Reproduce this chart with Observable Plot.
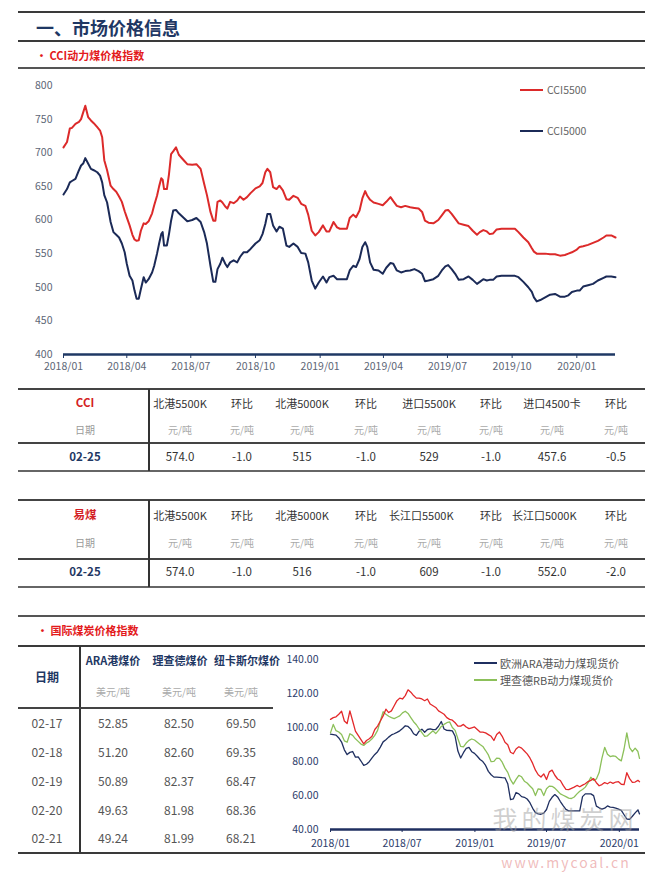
<!DOCTYPE html>
<html><head><meta charset="utf-8">
<script src="https://cdn.jsdelivr.net/npm/d3@7"></script>
<script src="https://cdn.jsdelivr.net/npm/@observablehq/plot@0.6"></script>
<style>
body{margin:0;background:#fff;}
#page{position:relative;width:663px;height:872px;overflow:hidden;background:#fff;font-family:"Noto Sans CJK SC","Noto Sans",sans-serif;}
.t{position:absolute;white-space:nowrap;transform:translate(-50%,-50%);line-height:1;}
.l{position:absolute;}
</style></head><body><div id="page"></div>
<script>
// ---------- DATA ----------
const cciDates = ["2018-01-01","2018-01-06","2018-01-10","2018-01-13","2018-01-18","2018-01-23","2018-01-26","2018-01-29","2018-02-01","2018-02-05","2018-02-09","2018-02-13","2018-02-18","2018-02-22","2018-02-25","2018-02-28","2018-03-04","2018-03-09","2018-03-13","2018-03-17","2018-03-21","2018-03-25","2018-03-29","2018-04-01","2018-04-05","2018-04-09","2018-04-12","2018-04-15","2018-04-18","2018-04-21","2018-04-25","2018-04-28","2018-05-02","2018-05-07","2018-05-10","2018-05-14","2018-05-17","2018-05-20","2018-05-22","2018-05-24","2018-05-28","2018-05-31","2018-06-03","2018-06-06","2018-06-10","2018-06-14","2018-06-20","2018-06-26","2018-07-03","2018-07-09","2018-07-15","2018-07-20","2018-07-24","2018-07-29","2018-08-02","2018-08-05","2018-08-08","2018-08-12","2018-08-15","2018-08-19","2018-08-22","2018-08-26","2018-08-31","2018-09-05","2018-09-09","2018-09-14","2018-09-19","2018-09-24","2018-10-01","2018-10-07","2018-10-11","2018-10-15","2018-10-18","2018-10-22","2018-10-26","2018-10-31","2018-11-04","2018-11-09","2018-11-14","2018-11-18","2018-11-24","2018-11-30","2018-12-05","2018-12-11","2018-12-15","2018-12-20","2018-12-25","2018-12-30","2019-01-05","2019-01-10","2019-01-14","2019-01-20","2019-01-25","2019-01-29","2019-02-08","2019-02-12","2019-02-17","2019-02-21","2019-02-26","2019-03-02","2019-03-06","2019-03-09","2019-03-13","2019-03-18","2019-03-25","2019-03-31","2019-04-05","2019-04-11","2019-04-15","2019-04-20","2019-04-26","2019-05-02","2019-05-09","2019-05-15","2019-05-21","2019-05-26","2019-05-30","2019-06-04","2019-06-11","2019-06-18","2019-06-23","2019-06-28","2019-07-02","2019-07-07","2019-07-12","2019-07-17","2019-07-24","2019-07-31","2019-08-06","2019-08-12","2019-08-16","2019-08-21","2019-08-26","2019-08-30","2019-09-04","2019-09-09","2019-09-16","2019-10-05","2019-10-10","2019-10-17","2019-10-24","2019-10-29","2019-11-01","2019-11-05","2019-11-10","2019-11-17","2019-11-24","2019-12-01","2019-12-08","2019-12-15","2019-12-20","2019-12-25","2020-01-01","2020-01-05","2020-01-10","2020-01-17","2020-01-24","2020-01-31","2020-02-08","2020-02-12","2020-02-19","2020-02-25"];
const cci5500 = [708,716,736,737,743,746,750,760,770,753,748,744,738,733,723,689,674,651,646,642,635,627,613,604,592,578,571,569,570,584,595,594,598,610,622,636,650,662,660,646,646,668,698,702,708,697,690,683,682,683,676,654,637,612,599,599,627,629,626,620,617,627,625,629,635,630,634,640,647,650,655,671,676,671,649,646,651,644,631,630,636,633,624,621,608,584,577,582,592,583,583,597,589,587,587,603,608,604,614,632,643,636,630,626,624,622,627,634,628,621,619,621,619,618,617,612,599,596,595,600,607,614,615,609,602,595,593,591,584,578,582,585,583,579,580,586,587,587,582,574,567,558,553,550,550,550,549,549,547,548,550,552,556,560,561,563,566,569,574,577,577,574];
const cci5000 = [638,646,656,658,661,674,681,684,692,684,676,674,671,666,656,637,626,597,582,578,574,565,552,535,517,510,495,483,483,497,515,507,512,522,532,550,565,579,582,562,562,579,599,614,615,610,604,598,600,603,597,582,565,532,508,508,527,535,544,535,530,537,540,537,545,552,552,557,565,570,579,594,609,609,592,583,590,587,562,560,565,560,551,550,537,510,498,507,516,507,515,517,512,512,512,525,532,530,542,560,567,560,537,526,525,520,529,536,535,525,522,524,525,527,524,520,509,510,512,517,525,531,533,527,520,511,512,516,511,505,508,512,510,511,511,516,517,517,515,508,500,493,485,479,481,485,489,490,486,486,488,493,495,495,501,503,505,510,514,516,516,515];
const cciYTicks = [400,450,500,550,600,650,700,750,800];
const cciXTicks = ["2018-01-01","2018-04-01","2018-07-01","2018-10-01","2019-01-01","2019-04-01","2019-07-01","2019-10-01","2020-01-01"];
const cciSeriesNames = ["CCI5500","CCI5000"];

const cciHeaders = ["北港5500K","环比","北港5000K","环比","进口5500K","环比","进口4500卡","环比"];
const cciRowValues = ["574.0","-1.0","515","-1.0","529","-1.0","457.6","-0.5"];
const ymHeaders = ["北港5500K","环比","北港5000K","环比","长江口5500K","环比","长江口5000K","环比"];
const ymRowValues = ["574.0","-1.0","516","-1.0","609","-1.0","552.0","-2.0"];
const rowDate = "02-25";
const unitCny = "元/吨";

const intlHeaders = ["ARA港煤价","理查德煤价","纽卡斯尔煤价"];
const unitUsd = "美元/吨";
const intlDates = ["02-17","02-18","02-19","02-20","02-21"];
const intlARA = ["52.85","51.20","50.89","49.63","49.24"];
const intlRB = ["82.50","82.60","82.37","81.98","81.99"];
const intlNC = ["69.50","69.35","68.47","68.36","68.21"];

const weekDates = ["2018-01-01","2018-01-08","2018-01-15","2018-01-22","2018-01-29","2018-02-05","2018-02-12","2018-02-19","2018-02-26","2018-03-05","2018-03-12","2018-03-19","2018-03-26","2018-04-02","2018-04-09","2018-04-16","2018-04-23","2018-04-30","2018-05-07","2018-05-14","2018-05-21","2018-05-28","2018-06-04","2018-06-11","2018-06-18","2018-06-25","2018-07-02","2018-07-09","2018-07-16","2018-07-23","2018-07-30","2018-08-06","2018-08-13","2018-08-20","2018-08-27","2018-09-03","2018-09-10","2018-09-17","2018-09-24","2018-10-01","2018-10-08","2018-10-15","2018-10-22","2018-10-29","2018-11-05","2018-11-12","2018-11-19","2018-11-26","2018-12-03","2018-12-10","2018-12-17","2018-12-24","2018-12-31","2019-01-07","2019-01-14","2019-01-21","2019-01-28","2019-02-04","2019-02-11","2019-02-18","2019-02-25","2019-03-04","2019-03-11","2019-03-18","2019-03-25","2019-04-01","2019-04-08","2019-04-15","2019-04-22","2019-04-29","2019-05-06","2019-05-13","2019-05-20","2019-05-27","2019-06-03","2019-06-10","2019-06-17","2019-06-24","2019-07-01","2019-07-08","2019-07-15","2019-07-22","2019-07-29","2019-08-05","2019-08-12","2019-08-19","2019-08-26","2019-09-02","2019-09-09","2019-09-16","2019-09-23","2019-09-30","2019-10-07","2019-10-14","2019-10-21","2019-10-28","2019-11-04","2019-11-11","2019-11-18","2019-11-25","2019-12-02","2019-12-09","2019-12-16","2019-12-23","2019-12-30","2020-01-06","2020-01-13","2020-01-20","2020-01-27","2020-02-03","2020-02-10","2020-02-17","2020-02-21"];
const araValues = [96.3,96,95.7,94,91.6,87,84.2,85.5,86,82.7,82.8,80.4,77.8,78.5,80,82.2,84.3,85.9,88.6,91.7,93,94.5,95.8,96.5,97.3,98.2,99.6,101.2,100.8,99.2,96.5,95.5,98,99.2,97.4,99,99.4,98.9,99,100.9,103.7,99.3,98.5,98.4,98.2,95,86.3,82.2,85.3,87.8,88.4,85.9,84.9,83.2,81.3,80.1,77.8,74.3,72.3,70.9,70.9,70.8,70.6,70.5,67,57.6,58,61.8,61,59.4,59,58,55.8,52.5,50,49.2,49,49.6,51.8,56.6,59,60.6,59.2,56.5,54.1,51.9,51,51,51,51,51,59.4,61,61,61,60,53.8,52.8,52,52.6,53.9,53.2,53,52.6,52,51.3,48.7,46.2,46,47.8,49.8,51.6,49.2];
const rbValues = [97,102,98.3,97.5,96,92.3,91.5,96.5,95.5,93.5,92,90.4,89.6,91,92,93.5,95.5,98.5,104,109.5,108,106.8,106,105.4,106.2,107,108.8,109.8,108.5,106,103.6,101.8,99.3,97.2,94.9,95.3,96.8,98.2,96.6,98.5,100.8,102,103,103.5,100.2,98.5,93.5,89,88.8,91,92.6,93.4,92.8,91.5,90.2,89,86.6,84,80,80.2,82.1,82,79.7,76.2,73.7,69.4,66.8,69.6,71.9,71.1,68.5,67.4,65.7,64,60,64,63.6,60,64,65.6,65.5,64.4,62.7,61,60.2,59.4,58.5,58.3,59.2,61,62.6,63.6,65,67.5,70.8,69,69.8,73.6,82,88.5,84.4,83,83.5,83.1,81.5,80.5,87.5,97,88.3,85.9,88,86,82];
const ncValues = [105,106,106.5,108,109.8,104,102.5,110,104,98,95.5,93,90.5,92.5,93.5,95,99,101,104,107,111,109,110,113,116,117.5,117,119,122.4,121,119,117.5,117.5,117,116,117,114,113,112,110,109,108,106,105,104.5,103,101,101,102,100.5,99.5,100,100.5,99,97.5,97.5,97,96,95,92.5,96,97.5,95,91.5,90,85.6,84.7,87.5,88.8,88,86.3,84.6,82.2,79,75,72.3,71,72.8,69.5,74,75,72,69.8,68.9,66,63.7,63.5,64.3,65,66,65.2,66.2,67,68.3,69,70,67.6,65.8,66.5,67.7,67,68,67.2,68,68.2,66.7,66.5,73.5,70,67.8,68,69,68.2];
const intlYTicks = [40,60,80,100,120,140];
const intlXTicks = ["2018-01-01","2018-07-01","2019-01-01","2019-07-01","2020-01-01"];
const intlLegend = ["欧洲ARA港动力煤现货价","理查德RB动力煤现货价"];

// ---------- helpers ----------
const page = document.getElementById("page");
const FONT = '"Noto Sans CJK SC","Noto Sans",sans-serif';
function text(s, x, y, style = {}, anchor = "middle") {
  const d = document.createElement("div");
  d.className = "t"; d.textContent = s;
  d.style.left = x + "px"; d.style.top = y + "px";
  if (anchor === "start") d.style.transform = "translate(0,-50%)";
  Object.assign(d.style, style);
  page.appendChild(d); return d;
}
function hline(y, x1, x2, w, c) {
  const d = document.createElement("div"); d.className = "l";
  Object.assign(d.style, {left: x1 + "px", top: (y - w / 2) + "px", width: (x2 - x1) + "px", height: w + "px", background: c});
  page.appendChild(d);
}
function vline(x, y1, y2, w, c) {
  const d = document.createElement("div"); d.className = "l";
  Object.assign(d.style, {left: (x - w / 2) + "px", top: y1 + "px", width: w + "px", height: (y2 - y1) + "px", background: c});
  page.appendChild(d);
}
function place(el, x, y) {
  const w = document.createElement("div");
  Object.assign(w.style, {position: "absolute", left: x + "px", top: y + "px"});
  w.appendChild(el); page.appendChild(w);
}

// ---------- header ----------
hline(12, 18, 645, 2, "#3a3a3a");
text("一、市场价格信息", 36, 27, {fontSize: "18px", fontWeight: "700", color: "#1f3864"}, "start");
hline(41, 18, 645, 2, "#3a3a3a");
text("• CCI动力煤价格指数", 36, 55, {fontSize: "11px", fontWeight: "700", color: "#e31a1c"}, "start");
hline(68, 18, 645, 1.5, "#555");

// ---------- chart 1 ----------
const parse = s => new Date(s);
const cciRows = cciDates.flatMap((d, i) => [
  {date: parse(d), value: cci5500[i], series: cciSeriesNames[0]},
  {date: parse(d), value: cci5000[i], series: cciSeriesNames[1]}
]);
const c1 = Plot.plot({
  width: 663, height: 312,
  marginTop: 17, marginBottom: 26, marginLeft: 63, marginRight: 48,
  style: {fontFamily: FONT, fontSize: "10.5px", background: "transparent", overflow: "visible"},
  x: {type: "utc", domain: [parse("2018-01-01"), parse("2020-02-25")], label: null},
  y: {domain: [400, 800], label: null},
  color: {domain: cciSeriesNames, range: ["#dc2a2a", "#1b2a57"]},
  marks: [
    Plot.axisY({ticks: cciYTicks, tickSize: 0, tickPadding: 11, fill: "#5d6676", label: null}),
    Plot.ruleY([400], {stroke: "#1f3864", strokeWidth: 2.5}),
    Plot.axisX({ticks: cciXTicks.map(parse), tickFormat: d3.utcFormat("%Y/%m"), tickSize: 4, tickPadding: 4, stroke: "#1f3864", fill: "#5d6676", label: null}),
    Plot.line(cciRows, {x: "date", y: "value", z: "series", stroke: "series", strokeWidth: 2})
  ]
});
place(c1, 0, 68);
// legend chart 1
hline(90, 520, 543, 2, "#dc2a2a");
text(cciSeriesNames[0], 547, 90, {fontSize: "10.5px", color: "#666"}, "start");
hline(131, 520, 543, 2, "#1b2a57");
text(cciSeriesNames[1], 547, 131, {fontSize: "10.5px", color: "#666"}, "start");

// ---------- tables 1 & 2 ----------
const colX = [180, 242, 302, 366, 429, 491, 552, 616];
function domTable(ys, label, headers, values) {
  const [top, yHead, yUnit, yMid, yRow, yBot] = ys;
  hline(top, 18, 645, 2, "#444");
  hline(yMid, 18, 645, 2, "#444");
  hline(yBot, 18, 645, 2, "#666");
  vline(149, top, yBot, 1.5, "#333");
  text(label, 85, yHead, {fontSize: "11.5px", fontWeight: "700", color: "#d41f26"});
  text("日期", 85, yUnit, {fontSize: "10px", color: "#9a9a9a"});
  text(rowDate, 85, yRow, {fontSize: "11.5px", fontWeight: "700", color: "#1f3864"});
  headers.forEach((h, i) => {
    const el = text(h, colX[i], yHead, {fontSize: "11px", color: "#333"});
    if (h.startsWith("长江口")) {
      Object.assign(el.style, {width: "66px", overflow: "hidden", left: (colX[i] - 40) + "px", transform: "translate(0,-50%)", lineHeight: "14px"});
    }
    text(unitCny, colX[i], yUnit, {fontSize: "10px", color: "#aaa"});
    text(values[i], colX[i], yRow, {fontSize: "11.5px", color: "#333"});
  });
}
domTable([389, 403, 430, 443, 457, 471], "CCI", cciHeaders, cciRowValues);
domTable([500, 515, 543, 559, 572, 587], "易煤", ymHeaders, ymRowValues);

// ---------- section 3 ----------
hline(616, 18, 645, 1.5, "#555");
text("• 国际煤炭价格指数", 37, 630, {fontSize: "11px", fontWeight: "700", color: "#e31a1c"}, "start");
hline(646, 18, 645, 2, "#3a3a3a");
vline(80, 646, 853, 1.5, "#333");
hline(708, 18, 273, 1.5, "#444");
hline(853, 18, 645, 2, "#3a3a3a");
text("日期", 47, 677, {fontSize: "12px", fontWeight: "700", color: "#1f3864"});
const intlHeadX = [113, 180, 247];
const intlColX = [113, 179, 241];
intlHeaders.forEach((h, i) => {
  text(h, intlHeadX[i], 660, {fontSize: "11px", fontWeight: "700", color: "#1f3864"});
  text(unitUsd, intlColX[i], 692, {fontSize: "10px", color: "#aaa"});
});
const rowY = [723, 752, 781, 810, 838];
intlDates.forEach((d, r) => {
  text(d, 47, rowY[r], {fontSize: "12px", color: "#555"});
  [intlARA, intlRB, intlNC].forEach((arr, i) => text(arr[r], intlColX[i], rowY[r], {fontSize: "12px", color: "#555"}));
});

// ---------- chart 2 ----------
const intlNames = ["ARA", "RB", "NC"];
const intlRows = weekDates.flatMap((d, i) => [
  {date: parse(d), value: araValues[i], series: "ARA"},
  {date: parse(d), value: rbValues[i], series: "RB"},
  {date: parse(d), value: ncValues[i], series: "NC"}
]);
const c2 = Plot.plot({
  width: 383, height: 215,
  marginTop: 19.5, marginBottom: 26, marginLeft: 50, marginRight: 24,
  style: {fontFamily: FONT, fontSize: "10.5px", background: "transparent", overflow: "visible"},
  x: {type: "utc", domain: [parse("2018-01-01"), parse("2020-02-21")], label: null},
  y: {domain: [40, 140], label: null},
  color: {domain: intlNames, range: ["#1f2f60", "#8cc05a", "#e3292b"]},
  marks: [
    Plot.axisY({ticks: intlYTicks, tickFormat: d3.format(".2f"), tickSize: 0, tickPadding: 12, fill: "#2c3c6a", label: null}),
    Plot.line(intlRows, {x: "date", y: "value", z: "series", stroke: "series", strokeWidth: 1.3}),
    Plot.ruleY([40], {stroke: "#1f2f60", strokeWidth: 2.5}),
    Plot.axisX({ticks: intlXTicks.map(parse), tickFormat: d3.utcFormat("%Y/%m"), tickSize: 3, tickPadding: 7, stroke: "#1f2f60", fill: "#2c3c6a", label: null})
  ]
});
place(c2, 280, 640);
// legend chart 2
hline(663, 474, 497, 1.5, "#1f2f60");
text(intlLegend[0], 500, 663, {fontSize: "11px", color: "#555"}, "start");
hline(680, 474, 497, 1.5, "#8cc05a");
text(intlLegend[1], 500, 680, {fontSize: "11px", color: "#555"}, "start");

// watermark
text("我的煤炭网", 565, 818, {fontSize: "25px", letterSpacing: "4px", color: "rgba(160,160,160,0.5)"});
text("www.mycoal.cn", 566, 862, {fontSize: "14px", letterSpacing: "2px", color: "rgba(225,120,120,0.5)"});
</script></body></html>
